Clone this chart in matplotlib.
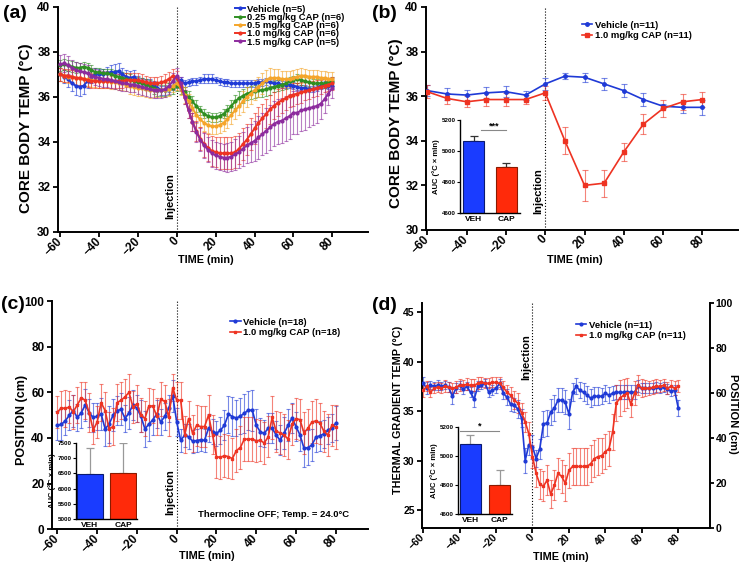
import numpy as np
import matplotlib
matplotlib.use('Agg')
import matplotlib.pyplot as plt

plt.rcParams['font.family'] = ['Liberation Sans', 'DejaVu Sans']
plt.rcParams['font.weight'] = 'bold'
plt.rcParams['axes.labelweight'] = 'bold'

# ---- data ----
t_fine = np.arange(-60, 81, 2)     # 2-min bins
t_coarse = np.arange(-60, 81, 10)  # 10-min bins
x_ticks = [-60, -40, -20, 0, 20, 40, 60, 80]

# (a) dose response, core body temp
veh_a = [37.0, 36.9, 36.8, 36.6, 36.5, 36.45, 36.5, 36.7, 36.9, 37.0,
         37.0, 37.0, 37.05, 37.1, 37.1, 37.15, 37.0, 36.9, 36.85, 36.9,
         36.7, 36.6, 36.55, 36.55, 36.5, 36.4, 36.3, 36.3, 36.4, 36.5,
         36.6, 36.75, 36.6, 36.65, 36.7, 36.7, 36.75, 36.8, 36.8, 36.8,
         36.75, 36.7, 36.65, 36.65, 36.6, 36.6, 36.6, 36.6, 36.6, 36.6,
         36.6, 36.65, 36.65, 36.7, 36.65, 36.6, 36.6, 36.55, 36.55, 36.55,
         36.5, 36.45, 36.4, 36.4, 36.35, 36.35, 36.4, 36.5, 36.55, 36.5,
         36.5]
veh_a_err = [0.30, 0.30, 0.35, 0.35, 0.40, 0.40, 0.35, 0.30, 0.30, 0.30,
             0.25, 0.25, 0.30, 0.30, 0.35, 0.35, 0.30, 0.30, 0.30, 0.30,
             0.25, 0.25, 0.25, 0.25, 0.20, 0.20, 0.20, 0.20, 0.20, 0.20,
             0.20, 0.15, 0.15, 0.15, 0.15, 0.15, 0.15, 0.20, 0.20, 0.20,
             0.15, 0.15, 0.15, 0.15, 0.15, 0.15, 0.15, 0.15, 0.15, 0.15,
             0.15, 0.15, 0.15, 0.15, 0.15, 0.15, 0.15, 0.15, 0.15, 0.15,
             0.15, 0.15, 0.15, 0.15, 0.15, 0.15, 0.15, 0.15, 0.15, 0.15,
             0.15]
cap025_a = [37.4, 37.45, 37.4, 37.35, 37.3, 37.3, 37.35, 37.3, 37.2, 37.1,
            37.1, 37.05, 37.05, 37.0, 36.95, 36.9, 36.85, 36.8, 36.75, 36.7,
            36.65, 36.6, 36.55, 36.5, 36.4, 36.3, 36.3, 36.3, 36.35, 36.4,
            36.5, 36.4, 36.2, 36.0, 35.8, 35.6, 35.4, 35.25, 35.15, 35.1,
            35.1, 35.15, 35.25, 35.4, 35.6, 35.8, 35.95, 36.05, 36.15, 36.2,
            36.25, 36.3, 36.3, 36.35, 36.4, 36.45, 36.5, 36.55, 36.6, 36.7,
            36.75, 36.8, 36.75, 36.7, 36.65, 36.6, 36.6, 36.6, 36.6, 36.65,
            36.7]
cap025_a_err = [0.25, 0.25, 0.25, 0.25, 0.25, 0.20, 0.20, 0.20, 0.20, 0.20,
                0.20, 0.20, 0.20, 0.25, 0.25, 0.25, 0.25, 0.25, 0.25, 0.25,
                0.25, 0.25, 0.25, 0.25, 0.25, 0.25, 0.25, 0.25, 0.25, 0.25,
                0.25, 0.25, 0.25, 0.25, 0.25, 0.25, 0.20, 0.20, 0.20, 0.20,
                0.20, 0.20, 0.20, 0.25, 0.25, 0.30, 0.30, 0.30, 0.30, 0.30,
                0.30, 0.30, 0.30, 0.30, 0.30, 0.25, 0.25, 0.25, 0.25, 0.20,
                0.20, 0.20, 0.20, 0.20, 0.20, 0.20, 0.20, 0.20, 0.20, 0.20,
                0.20]
cap05_a = [37.0, 36.95, 36.9, 36.9, 36.85, 36.85, 36.8, 36.8, 36.75, 36.75,
           36.7, 36.7, 36.7, 36.65, 36.65, 36.6, 36.6, 36.55, 36.5, 36.45,
           36.4, 36.4, 36.35, 36.3, 36.3, 36.3, 36.3, 36.3, 36.35, 36.5,
           36.6, 36.4, 36.1, 35.8, 35.5, 35.2, 35.0, 34.85, 34.75, 34.7,
           34.7, 34.75, 34.85, 35.0, 35.2, 35.4, 35.6, 35.8, 36.0, 36.15,
           36.3, 36.45, 36.6, 36.75, 36.85, 36.85, 36.85, 36.8, 36.8, 36.8,
           36.85, 36.9, 36.95, 36.95, 36.9, 36.9, 36.9, 36.85, 36.85, 36.8,
           36.8]
cap05_a_err = [0.30, 0.30, 0.30, 0.30, 0.30, 0.30, 0.30, 0.30, 0.30, 0.30,
               0.30, 0.30, 0.30, 0.30, 0.30, 0.30, 0.30, 0.30, 0.35, 0.35,
               0.35, 0.35, 0.35, 0.35, 0.30, 0.30, 0.30, 0.30, 0.30, 0.30,
               0.30, 0.30, 0.35, 0.35, 0.35, 0.35, 0.35, 0.35, 0.35, 0.35,
               0.35, 0.35, 0.35, 0.40, 0.40, 0.40, 0.40, 0.45, 0.45, 0.45,
               0.45, 0.45, 0.45, 0.45, 0.45, 0.40, 0.40, 0.35, 0.35, 0.35,
               0.35, 0.35, 0.35, 0.30, 0.30, 0.30, 0.30, 0.30, 0.30, 0.30,
               0.30]
cap10_a = [37.0, 36.95, 36.95, 36.9, 36.85, 36.85, 36.8, 36.75, 36.7, 36.7,
           36.7, 36.7, 36.7, 36.7, 36.7, 36.7, 36.7, 36.75, 36.75, 36.75,
           36.75, 36.7, 36.65, 36.6, 36.6, 36.6, 36.65, 36.7, 36.8, 36.95,
           36.85, 36.5, 36.0, 35.4, 34.9, 34.5, 34.15, 33.9, 33.75, 33.6,
           33.55, 33.5, 33.5, 33.5, 33.5, 33.55, 33.7, 33.9, 34.1, 34.35,
           34.6, 34.85, 35.05, 35.25, 35.45, 35.6, 35.75, 35.85, 35.95, 36.05,
           36.1, 36.15, 36.2, 36.25, 36.3, 36.35, 36.4, 36.45, 36.5, 36.55,
           36.6]
cap10_a_err = [0.30, 0.30, 0.30, 0.30, 0.30, 0.30, 0.30, 0.30, 0.30, 0.30,
               0.30, 0.30, 0.30, 0.30, 0.30, 0.30, 0.30, 0.30, 0.30, 0.30,
               0.30, 0.30, 0.30, 0.30, 0.30, 0.30, 0.30, 0.30, 0.30, 0.30,
               0.30, 0.25, 0.30, 0.35, 0.40, 0.45, 0.50, 0.55, 0.60, 0.65,
               0.65, 0.70, 0.70, 0.70, 0.70, 0.70, 0.70, 0.70, 0.70, 0.70,
               0.70, 0.70, 0.65, 0.65, 0.65, 0.60, 0.60, 0.55, 0.55, 0.50,
               0.50, 0.45, 0.45, 0.40, 0.40, 0.35, 0.35, 0.30, 0.30, 0.30,
               0.30]
cap15_a = [37.45, 37.5, 37.4, 37.3, 37.2, 37.15, 37.1, 37.05, 36.95, 36.9,
           36.85, 36.8, 36.8, 36.75, 36.7, 36.65, 36.6, 36.6, 36.55, 36.55,
           36.5, 36.45, 36.4, 36.35, 36.3, 36.3, 36.3, 36.35, 36.5, 36.7,
           36.95, 36.6, 36.0, 35.4, 34.9, 34.45, 34.1, 33.85, 33.65, 33.5,
           33.4, 33.35, 33.3, 33.3, 33.35, 33.45, 33.55, 33.7, 33.85, 33.95,
           34.05, 34.2, 34.35, 34.5, 34.65, 34.8, 34.9, 34.95, 35.05, 35.15,
           35.3, 35.3, 35.4, 35.45, 35.5, 35.55, 35.6, 35.7, 35.9, 36.15,
           36.4]
cap15_a_err = [0.40, 0.40, 0.40, 0.35, 0.35, 0.35, 0.35, 0.35, 0.35, 0.35,
               0.35, 0.35, 0.35, 0.35, 0.35, 0.35, 0.35, 0.35, 0.35, 0.35,
               0.35, 0.35, 0.35, 0.35, 0.35, 0.35, 0.35, 0.35, 0.35, 0.35,
               0.35, 0.30, 0.30, 0.35, 0.40, 0.45, 0.50, 0.55, 0.55, 0.60,
               0.60, 0.60, 0.60, 0.65, 0.65, 0.70, 0.70, 0.75, 0.80, 0.85,
               0.90, 0.95, 0.95, 1.00, 1.00, 1.00, 1.00, 1.00, 1.00, 1.00,
               0.95, 0.95, 0.90, 0.90, 0.85, 0.80, 0.75, 0.70, 0.60, 0.50,
               0.45]

# (b) core body temp, 10-min bins
veh_b = [36.25, 36.1, 36.05, 36.15, 36.2, 36.05, 36.55, 36.9, 36.85, 36.55,
         36.25, 35.85, 35.55, 35.5, 35.5]
veh_b_err = [0.25, 0.25, 0.25, 0.25, 0.25, 0.2, 0.25, 0.15, 0.2, 0.25,
             0.3, 0.3, 0.1, 0.25, 0.35]
cap_b = [36.2, 35.9, 35.75, 35.85, 35.85, 35.85, 36.15, 34.0, 32.0, 32.1,
         33.5, 34.75, 35.45, 35.75, 35.85]
cap_b_err = [0.3, 0.25, 0.25, 0.3, 0.3, 0.2, 0.3, 0.6, 0.7, 0.6,
             0.4, 0.45, 0.4, 0.35, 0.35]

# (c) position, thermocline off
veh_c = [45.5, 46.0, 47.5, 50.0, 52.0, 49.0, 51.0, 54.5, 51.0, 49.0,
         49.5, 50.5, 44.0, 46.0, 50.0, 52.0, 52.5, 48.5, 51.0, 54.5,
         53.0, 49.5, 44.0, 46.0, 48.0, 50.5, 47.0, 49.5, 53.0, 58.5,
         47.0, 39.0, 41.2, 40.5, 38.6, 38.9, 39.2, 39.0, 44.3, 42.7,
         42.0, 43.4, 45.6, 50.4, 49.4, 48.7, 49.6, 50.8, 52.2, 52.2,
         45.6, 42.7, 42.0, 44.3, 44.3, 41.3, 39.0, 42.0, 45.6, 48.7,
         45.0, 41.3, 35.5, 35.8, 37.0, 40.3, 41.0, 41.8, 43.4, 44.3,
         46.5]
veh_c_err = [6.5, 7.0, 6.0, 6.5, 7.0, 6.0, 6.5, 7.0, 6.0, 6.5,
             6.0, 7.0, 7.5, 8.0, 7.0, 6.5, 7.0, 6.0, 7.0, 6.5,
             6.0, 7.0, 8.0, 7.5, 6.5, 6.0, 5.5, 6.0, 6.0, 7.0,
             6.0, 5.0, 5.0, 5.5, 5.0, 5.0, 5.0, 5.0, 6.0, 5.5,
             5.5, 6.0, 6.5, 8.0, 8.5, 8.0, 8.0, 8.5, 8.5, 9.0,
             7.0, 6.0, 6.0, 6.5, 6.5, 6.0, 6.5, 7.0, 7.0, 6.5,
             6.5, 7.0, 8.0, 7.5, 7.0, 6.5, 6.5, 6.0, 6.0, 6.0,
             7.5]
cap_c = [51.5, 53.0, 53.0, 53.5, 51.5, 54.5, 57.5, 56.5, 51.0, 43.5,
         47.0, 55.5, 52.0, 44.0, 45.0, 55.5, 56.5, 58.0, 60.0, 53.5,
         55.0, 50.0, 48.5, 54.0, 54.0, 49.5, 57.0, 56.0, 49.0, 62.0,
         56.5, 56.5, 41.5, 48.5, 42.0, 45.5, 45.0, 45.0, 50.0, 41.5,
         31.8, 31.5, 32.3, 31.8, 31.0, 34.5, 35.8, 39.5, 39.5, 39.5,
         38.8, 39.0, 37.8, 40.5, 49.0, 43.0, 42.2, 41.3, 39.5, 46.0,
         48.5, 48.0, 42.2, 44.3, 47.0, 47.5, 46.5, 43.0, 41.3, 45.5,
         44.8]
cap_c_err = [7.0, 7.5, 8.0, 7.0, 7.5, 8.0, 7.0, 8.0, 8.5, 6.0,
             7.0, 8.0, 8.0, 7.5, 8.0, 8.0, 8.0, 8.0, 8.0, 7.0,
             8.0, 7.5, 7.5, 8.0, 7.5, 8.0, 7.5, 7.0, 8.0, 6.0,
             8.0, 8.0, 8.0, 7.5, 8.0, 9.0, 9.0, 9.0, 9.0, 8.5,
             9.5, 9.5, 9.5, 9.5, 9.0, 9.5, 9.5, 9.5, 9.5, 9.5,
             9.5, 9.0, 9.0, 9.0, 9.5, 9.0, 9.0, 9.0, 8.5, 9.0,
             9.0, 9.0, 9.0, 8.5, 9.0, 9.5, 9.0, 9.0, 9.0, 9.0,
             9.5]

# (d) thermal gradient temp
veh_d = [37.8, 37.3, 37.6, 37.5, 37.6, 37.5, 37.6, 37.4, 36.5, 37.3,
         37.6, 37.2, 37.5, 36.9, 36.2, 37.5, 37.6, 37.8, 36.9, 37.1,
         37.3, 37.8, 36.8, 36.4, 35.7, 35.6, 35.2, 34.3, 30.0, 31.6,
         31.4, 30.2, 31.2, 33.7, 33.8, 34.9, 35.3, 36.1, 36.1, 35.9,
         34.7, 36.9, 37.5, 37.1, 36.9, 36.6, 36.3, 36.5, 36.5, 36.5,
         36.8, 36.6, 36.8, 36.9, 36.9, 36.9, 36.9, 36.9, 36.9, 37.5,
         37.3, 37.3, 37.3, 37.3, 37.4, 37.3, 37.4, 37.2, 37.0, 37.1,
         35.3]
veh_d_err = [0.6, 0.6, 0.4, 0.4, 0.5, 0.4, 0.4, 0.5, 0.8, 0.5,
             0.4, 0.5, 0.4, 0.5, 0.8, 0.5, 0.4, 0.4, 0.5, 0.5,
             0.5, 0.4, 0.6, 0.8, 0.7, 0.7, 0.9, 0.9, 1.3, 1.0,
             1.2, 0.9, 1.0, 1.3, 1.3, 1.3, 1.3, 1.2, 1.2, 1.2,
             1.5, 0.9, 0.8, 0.8, 0.9, 0.9, 0.9, 0.9, 0.9, 0.8,
             0.8, 0.8, 0.7, 0.7, 0.7, 0.7, 0.7, 0.7, 0.7, 0.6,
             0.5, 0.5, 0.5, 0.5, 0.5, 0.5, 0.5, 0.5, 0.5, 0.5,
             0.8]
cap_d = [37.1, 37.5, 36.9, 37.3, 37.4, 37.3, 37.5, 37.4, 37.3, 37.4,
         37.6, 37.6, 37.7, 37.6, 37.6, 37.8, 37.9, 37.8, 37.8, 37.9,
         37.9, 37.8, 37.4, 36.9, 36.6, 36.1, 35.8, 34.8, 33.9, 32.7,
         30.4, 28.7, 27.6, 27.4, 28.0, 26.6, 27.5, 28.7, 28.4, 27.7,
         29.0, 29.4, 29.4, 29.4, 29.4, 29.4, 29.7, 30.2, 30.4, 30.5,
         30.9, 31.2, 32.9, 35.8, 36.3, 36.6, 36.8, 35.7, 36.8, 37.6,
         37.3, 37.3, 37.3, 37.4, 37.5, 37.5, 37.6, 37.3, 37.5, 37.3,
         37.5]
cap_d_err = [0.7, 0.5, 0.5, 0.5, 0.5, 0.5, 0.6, 0.5, 0.5, 0.6,
             0.6, 0.5, 0.6, 0.6, 0.6, 0.6, 0.5, 0.5, 0.5, 0.5,
             0.5, 0.6, 0.6, 0.7, 0.8, 0.9, 1.0, 1.0, 1.0, 1.2,
             1.2, 1.4, 1.5, 1.5, 1.5, 1.4, 1.5, 1.6, 1.7, 1.8,
             1.8, 1.9, 1.9, 1.9, 1.9, 1.9, 1.9, 1.9, 1.9, 1.8,
             1.8, 1.8, 1.8, 1.8, 1.8, 1.6, 1.5, 1.3, 1.2, 1.0,
             0.9, 0.8, 0.7, 0.7, 0.7, 0.6, 0.6, 0.6, 0.6, 0.7,
             0.6]

# AUC insets
auc_groups = ['VEH', 'CAP']
auc_b = [5065, 4895]
auc_b_err = [30, 25]
auc_c = [6480, 6510]
auc_c_err = [850, 1000]
auc_d = [5083, 4800]
auc_d_err = [62, 100]

labels_a = ['Vehicle (n=5)', '0.25 mg/kg CAP (n=6)', '0.5 mg/kg CAP (n=6)',
            '1.0 mg/kg CAP (n=6)', '1.5 mg/kg CAP (n=5)']

BLUE = '#1f3ad6'
RED = '#ee3322'
GREEN = '#2f8f22'
ORANGE = '#f5a52a'
PURPLE = '#8d2b9e'
BAR_BLUE = '#1a3cff'
BAR_RED = '#ff2a0a'

fig = plt.figure(figsize=(7.39, 5.64), dpi=100)


def style_axes(ax, xlim, ylim, yticks, xlab_pos, tick_fs=8.5):
    ax.spines['top'].set_visible(False)
    ax.spines['right'].set_visible(False)
    ax.spines['left'].set_linewidth(1.4)
    ax.spines['bottom'].set_linewidth(1.4)
    ax.set_xlim(xlim)
    ax.set_ylim(ylim)
    ax.set_xticks(x_ticks)
    ax.set_yticks(yticks)
    ax.tick_params(width=1.3, length=3.5, labelsize=tick_fs, pad=2)
    for lab in ax.get_xticklabels():
        lab.set_rotation(45)
        lab.set_ha('right')
        lab.set_va('center')
        lab.set_rotation_mode('anchor')
    ax.set_xlabel('TIME (min)', fontsize=7.8)
    ax.xaxis.set_label_coords(*xlab_pos)
    ax.axvline(0, color='black', ls=':', lw=0.8, zorder=1)


def draw_series(ax, t, y, err, color, marker, ms, lw, label, cap=1.6):
    ax.errorbar(t, y, yerr=err, fmt='none', ecolor=color, elinewidth=0.8,
                capsize=cap, capthick=0.8, alpha=0.6, zorder=2)
    ax.plot(t, y, color=color, marker=marker, ms=ms, lw=lw, label=label,
            zorder=3)


def add_legend(ax, anchor, spacing):
    ax.legend(loc='upper left', bbox_to_anchor=anchor,
              bbox_transform=fig.transFigure, frameon=False, fontsize=6.8,
              handlelength=1.1, handletextpad=0.25, borderpad=0,
              labelspacing=spacing)


def auc_inset(rect, values, errs, ylim, yticks, ecolor, sig=None, width=0.65):
    ins = fig.add_axes(rect)
    ins.bar([0, 1], values, width=width, color=[BAR_BLUE, BAR_RED],
            edgecolor=['#0a1a70', '#8a1a00'], lw=0.8, zorder=2)
    ins.errorbar([0, 1], values, yerr=[[0, 0], errs], fmt='none',
                 ecolor=ecolor, elinewidth=0.9, capsize=3, capthick=0.9,
                 zorder=1)
    ins.set_xlim(-0.42, 1.42)
    ins.set_ylim(ylim)
    ins.set_yticks(yticks)
    ins.set_xticks([0, 1])
    ins.set_xticklabels(auc_groups, fontsize=6)
    ins.tick_params(axis='y', labelsize=4.5, length=2, width=0.8, pad=1)
    ins.tick_params(axis='x', length=0, pad=2)
    ins.spines['top'].set_visible(False)
    ins.spines['right'].set_visible(False)
    ins.spines['left'].set_linewidth(1.0)
    ins.spines['bottom'].set_linewidth(1.0)
    ins.set_ylabel('AUC (°C × min)', fontsize=5.5, labelpad=1.5)
    ins.patch.set_alpha(0)
    if sig is not None:
        x0, x1, yv, txt = sig
        ins.plot([x0, x1], [yv, yv], color='#888888', lw=0.8)
        ins.text((x0 + x1) / 2, yv, txt, ha='center', va='bottom', fontsize=6.5)
    return ins


# ---- (a) ----
ax_a = fig.add_axes([0.0785, 0.5887, 0.4195, 0.399])
style_axes(ax_a, (-61.2, 98.4), (30, 40), [30, 32, 34, 36, 38, 40],
           (0.477, -0.102))
series_a = [(veh_a, veh_a_err, BLUE), (cap025_a, cap025_a_err, GREEN),
            (cap05_a, cap05_a_err, ORANGE), (cap10_a, cap10_a_err, RED),
            (cap15_a, cap15_a_err, PURPLE)]
for (vals, errs, col), lab in zip(series_a, labels_a):
    draw_series(ax_a, t_fine, vals, errs, col, 'o', 2.0, 1.4, lab, cap=1.3)
ax_a.set_ylabel('CORE BODY TEMP (°C)', fontsize=11)
ax_a.yaxis.set_label_coords(-0.081, 0.462)
ax_a.text(-0.8, 31.6, 'Injection', rotation=90, ha='right', va='center',
          fontsize=8)
add_legend(ax_a, (0.311, 1.0), -0.08)

# ---- (b) ----
ax_b = fig.add_axes([0.5765, 0.5922, 0.4223, 0.3954])
style_axes(ax_b, (-60.7, 98.2), (30, 40), [30, 32, 34, 36, 38, 40],
           (0.478, -0.112))
draw_series(ax_b, t_coarse, veh_b, veh_b_err, BLUE, 'o', 2.5, 1.2,
            'Vehicle (n=11)', cap=2.2)
draw_series(ax_b, t_coarse, cap_b, cap_b_err, RED, 's', 2.5, 1.2,
            '1.0 mg/kg CAP (n=11)', cap=2.2)
ax_b.set_ylabel('CORE BODY TEMP (°C)', fontsize=11)
ax_b.yaxis.set_label_coords(-0.074, 0.48)
ax_b.text(-0.8, 31.75, 'Injection', rotation=90, ha='right', va='center',
          fontsize=8)
add_legend(ax_b, (0.781, 0.972), 0.15)
auc_inset([0.6225, 0.6223, 0.0812, 0.1649], auc_b, auc_b_err, (4600, 5200),
          [4600, 4800, 5000, 5200], '#333333', sig=(0.23, 1.0, 5135, '***'))

# ---- (c) ----
ax_c = fig.add_axes([0.0704, 0.0615, 0.4276, 0.4048])
style_axes(ax_c, (-62.7, 96.2), (0, 100), [0, 20, 40, 60, 80, 100],
           (0.49, -0.095))
draw_series(ax_c, t_fine, veh_c, veh_c_err, BLUE, 'o', 2.0, 1.2,
            'Vehicle (n=18)', cap=1.5)
draw_series(ax_c, t_fine, cap_c, cap_c_err, RED, 's', 2.0, 1.2,
            '1.0 mg/kg CAP (n=18)', cap=1.5)
ax_c.set_ylabel('POSITION (cm)', fontsize=9)
ax_c.yaxis.set_label_coords(-0.075, 0.479)
ax_c.text(-0.8, 16.3, 'Injection', rotation=90, ha='right', va='center',
          fontsize=8)
ax_c.text(0.70, 0.063, 'Thermocline OFF; Temp. = 24.0°C',
          transform=ax_c.transAxes, ha='center', va='center', fontsize=6.8)
add_legend(ax_c, (0.305, 0.445), 0.15)
auc_inset([0.1028, 0.0793, 0.0825, 0.1353], auc_c, auc_c_err, (5000, 7500),
          [5000, 5500, 6000, 6500, 7000, 7500], '#999999', width=0.78)

# ---- (d) ----
ax_d = fig.add_axes([0.5714, 0.0633, 0.3893, 0.399])
style_axes(ax_d, (-60.5, 97.4), (23.15, 45.9), [25, 30, 35, 40, 45],
           (0.48, -0.105), tick_fs=7.5)
draw_series(ax_d, t_fine, veh_d, veh_d_err, BLUE, 'o', 2.0, 1.2,
            'Vehicle (n=11)', cap=1.5)
draw_series(ax_d, t_fine, cap_d, cap_d_err, RED, 's', 2.0, 1.2,
            '1.0 mg/kg CAP (n=11)', cap=1.5)
ax_d.set_ylabel('THERMAL GRADIENT TEMP (°C)', fontsize=7.8)
ax_d.yaxis.set_label_coords(-0.067, 0.526)
ax_d.text(-0.8, 40.5, 'Injection', rotation=90, ha='right', va='center',
          fontsize=8)
add_legend(ax_d, (0.773, 0.44), 0.15)
ax_d2 = ax_d.twinx()
ax_d2.set_ylim(0, 100)
ax_d2.set_yticks([0, 20, 40, 60, 80, 100])
ax_d2.spines['top'].set_visible(False)
ax_d2.spines['left'].set_visible(False)
ax_d2.spines['bottom'].set_visible(False)
ax_d2.spines['right'].set_linewidth(1.4)
ax_d2.tick_params(width=1.3, length=3, labelsize=7.5, pad=1)
ax_d2.set_ylabel('POSITION (cm)', fontsize=8, rotation=270, va='bottom')
ax_d2.yaxis.set_label_coords(1.063, 0.51)
auc_inset([0.6198, 0.0887, 0.0731, 0.1543], auc_d, auc_d_err, (4600, 5200),
          [4600, 4800, 5000, 5200], '#999999', sig=(-0.35, 0.97, 5172, '*'),
          width=0.71)

# panel letters
fig.text(0.004, 0.991, '(a)', fontsize=14, va='top', ha='left')
fig.text(0.503, 0.991, '(b)', fontsize=14, va='top', ha='left')
fig.text(0.002, 0.475, '(c)', fontsize=14, va='top', ha='left')
fig.text(0.503, 0.474, '(d)', fontsize=14, va='top', ha='left')

fig.savefig('out.png', dpi=100)
